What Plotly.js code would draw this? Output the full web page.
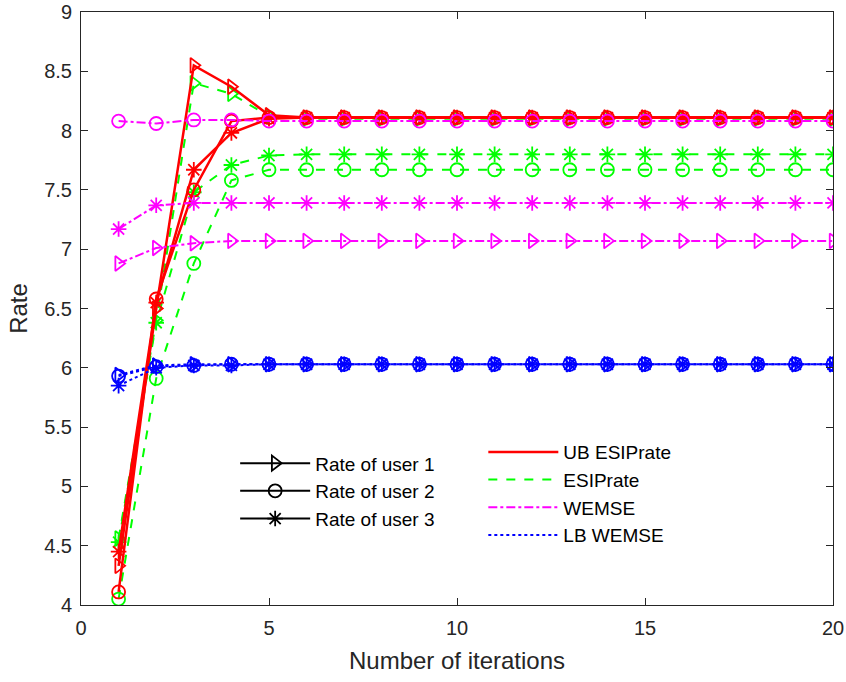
<!DOCTYPE html>
<html>
<head>
<meta charset="utf-8">
<script src="https://cdn.plot.ly/plotly-3.0.1.min.js"></script>
<style>html,body{margin:0;padding:0;background:#fff;}#chart{width:846px;height:682px;}</style>
</head>
<body>
<div id="chart"></div>
<script>
const iterations = [1,2,3,4,5,6,7,8,9,10,11,12,13,14,15,16,17,18,19,20];

const ubUser1 = [4.33,6.50,8.55,8.37,8.13,8.11,8.11,8.11,8.11,8.11,8.11,8.11,8.11,8.11,8.11,8.11,8.11,8.11,8.11,8.11];
const ubUser2 = [4.11,6.58,7.50,8.08,8.11,8.11,8.11,8.11,8.11,8.11,8.11,8.11,8.11,8.11,8.11,8.11,8.11,8.11,8.11,8.11];
const ubUser3 = [4.45,6.55,7.67,7.98,8.10,8.11,8.11,8.11,8.11,8.11,8.11,8.11,8.11,8.11,8.11,8.11,8.11,8.11,8.11,8.11];

const esUser1 = [4.56,6.40,8.40,8.31,8.12,8.10,8.10,8.10,8.10,8.10,8.10,8.10,8.10,8.10,8.10,8.10,8.10,8.10,8.10,8.10];
const esUser2 = [4.05,5.91,6.88,7.58,7.67,7.67,7.67,7.67,7.67,7.67,7.67,7.67,7.67,7.67,7.67,7.67,7.67,7.67,7.67,7.67];
const esUser3 = [4.53,6.38,7.48,7.71,7.79,7.80,7.80,7.80,7.80,7.80,7.80,7.80,7.80,7.80,7.80,7.80,7.80,7.80,7.80,7.80];

const weUser1 = [6.88,7.01,7.05,7.07,7.07,7.07,7.07,7.07,7.07,7.07,7.07,7.07,7.07,7.07,7.07,7.07,7.07,7.07,7.07,7.07];
const weUser2 = [8.08,8.06,8.09,8.09,8.08,8.08,8.08,8.08,8.08,8.08,8.08,8.08,8.08,8.08,8.08,8.08,8.08,8.08,8.08,8.08];
const weUser3 = [7.17,7.37,7.39,7.39,7.39,7.39,7.39,7.39,7.39,7.39,7.39,7.39,7.39,7.39,7.39,7.39,7.39,7.39,7.39,7.39];

const lbUser1 = [5.94,6.02,6.03,6.03,6.03,6.03,6.03,6.03,6.03,6.03,6.03,6.03,6.03,6.03,6.03,6.03,6.03,6.03,6.03,6.03];
const lbUser2 = [5.93,6.01,6.02,6.03,6.03,6.03,6.03,6.03,6.03,6.03,6.03,6.03,6.03,6.03,6.03,6.03,6.03,6.03,6.03,6.03];
const lbUser3 = [5.85,6.00,6.02,6.02,6.03,6.03,6.03,6.03,6.03,6.03,6.03,6.03,6.03,6.03,6.03,6.03,6.03,6.03,6.03,6.03];

const userNames = ['Rate of user 1','Rate of user 2','Rate of user 3'];
const methodNames = ['UB ESIPrate','ESIPrate','WEMSE','LB WEMSE'];
const xTicks = [0,5,10,15,20];
const yTicks = [4,4.5,5,5.5,6,6.5,7,7.5,8,8.5,9];

const symbols = ['triangle-right-open','circle-open','asterisk-open'];
const methods = [
  {name: methodNames[1], color:'#00FF00', dash:'dash', width:2, data:[esUser1,esUser2,esUser3]},
  {name: methodNames[0], color:'#FF0000', dash:'solid', width:2.5, data:[ubUser1,ubUser2,ubUser3]},
  {name: methodNames[2], color:'#FF00FF', dash:'dashdot', width:2, data:[weUser1,weUser2,weUser3]},
  {name: methodNames[3], color:'#0000FF', dash:'dot', width:2, data:[lbUser1,lbUser2,lbUser3]}
];

const traces = [];
methods.forEach(m => {
  m.data.forEach((ys, i) => {
    traces.push({
      x: iterations, y: ys, type:'scatter', mode:'lines+markers',
      line:{color:m.color, dash:m.dash, width:m.width},
      marker:{symbol:symbols[i], size:13, color:m.color, line:{color:m.color, width:1.8}},
      showlegend:false, hoverinfo:'skip'
    });
  });
});
// legend 1: users (black)
userNames.forEach((n, i) => {
  traces.push({
    x:[null], y:[null], type:'scatter', mode:'lines+markers', name:n,
    line:{color:'#000000', width:2},
    marker:{symbol:symbols[i], size:13, color:'#000000', line:{color:'#000000', width:1.8}},
    legend:'legend', showlegend:true
  });
});
// legend 2: methods
const legendOrder = [1,0,2,3];
legendOrder.forEach(k => {
  const m = methods[k];
  traces.push({
    x:[null], y:[null], type:'scatter', mode:'lines', name:m.name,
    line:{color:m.color, dash:m.dash, width:m.width},
    legend:'legend2', showlegend:true
  });
});

const axisCommon = {
  showline:true, mirror:'ticks', linecolor:'#262626', linewidth:1,
  ticks:'inside', ticklen:7, tickwidth:1, tickcolor:'#262626',
  showgrid:false, zeroline:false,
  tickfont:{family:'Liberation Sans, Arial, sans-serif', size:20, color:'#262626'}
};

const layout = {
  width:846, height:682,
  margin:{l:81, r:13, t:12, b:77},
  paper_bgcolor:'#ffffff', plot_bgcolor:'#ffffff',
  font:{family:'Liberation Sans, Arial, sans-serif', color:'#262626'},
  xaxis: Object.assign({}, axisCommon, {
    range:[0,20], tickvals:xTicks, ticktext:xTicks.map(String),
    ticklabelstandoff:5,
    title:{text:'Number of iterations', font:{size:24, color:'#262626'}, standoff:14}
  }),
  yaxis: Object.assign({}, axisCommon, {
    range:[4,9], tickvals:yTicks, ticktext:yTicks.map(String),
    ticklabelstandoff:4,
    title:{text:'Rate', font:{size:24, color:'#262626'}, standoff:9}
  }),
  legend:{
    x:0.205, y:0.271, xanchor:'left', yanchor:'top',
    bgcolor:'rgba(255,255,255,0)', borderwidth:0,
    font:{size:19, color:'#000000'}, itemwidth:70, tracegroupgap:0
  },
  legend2:{
    x:0.535, y:0.290, xanchor:'left', yanchor:'top',
    bgcolor:'rgba(255,255,255,0)', borderwidth:0,
    font:{size:19, color:'#000000'}, itemwidth:70, tracegroupgap:0
  },
  showlegend:true
};

Plotly.newPlot('chart', traces, layout, {displayModeBar:false, staticPlot:true});
</script>
</body>
</html>
